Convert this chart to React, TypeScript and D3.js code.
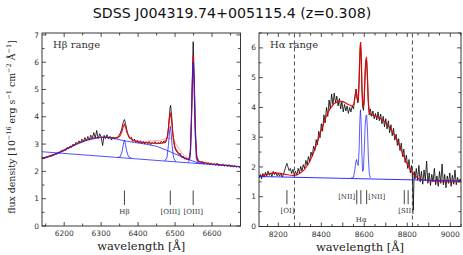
import React from 'react';
import * as d3 from 'd3';

// ---- H-beta panel data ----
const hbObsWave = [6140,6144,6148,6152,6156,6160,6164,6168,6172,6176,6180,6184,6188,6192,6196,6200,6204,6208,6212,6216,6220,6224,6228,6232,6236,6240,6244,6248,6252,6256,6260,6264,6268,6272,6276,6280,6284,6288,6292,6296,6300,6304,6308,6312,6316,6320,6324,6328,6332,6336,6340,6344,6348,6352,6356,6360,6363,6366,6370,6374,6378,6382,6386,6390,6394,6398,6402,6406,6410,6414,6418,6422,6426,6430,6434,6438,6442,6446,6450,6454,6458,6462,6466,6470,6474,6478,6482,6486,6488,6491,6494,6498,6502,6506,6510,6514,6518,6522,6526,6530,6534,6538,6541,6544,6547,6549,6552,6555,6558,6562,6566,6570,6574,6578,6582,6586,6590,6594,6598,6602,6606,6610,6614,6618,6622,6626,6630,6634,6638,6642,6646,6650,6654,6658,6662,6666,6670,6674,6677];
const hbObsFlux = [2.45,2.50,2.47,2.55,2.51,2.58,2.54,2.62,2.59,2.66,2.63,2.70,2.67,2.76,2.72,2.80,2.77,2.88,2.83,2.93,2.88,3.00,2.94,3.07,3.01,3.12,3.04,3.18,3.09,3.24,3.12,3.28,3.16,3.33,3.20,3.42,3.22,3.50,3.20,3.38,3.26,2.95,3.32,3.20,3.34,3.19,3.28,3.15,3.26,3.18,3.25,3.21,3.32,3.40,3.58,3.82,3.90,3.75,3.48,3.30,3.20,3.25,3.10,3.18,3.06,3.14,3.04,3.12,3.02,3.10,3.00,3.08,3.02,3.10,2.98,3.07,3.01,3.09,3.00,3.06,3.02,3.10,3.05,3.12,3.08,3.20,3.55,4.30,4.42,4.00,3.40,2.95,2.78,2.70,2.62,2.66,2.52,2.56,2.46,2.50,2.42,2.48,2.70,3.80,5.60,6.75,5.40,3.60,2.60,2.38,2.34,2.30,2.36,2.28,2.33,2.26,2.31,2.25,2.30,2.24,2.28,2.22,2.30,2.20,2.27,2.21,2.26,2.19,2.24,2.18,2.25,2.17,2.22,2.16,2.21,2.15,2.19,2.14,2.16];

const hbModelWave = [6140,6160,6180,6200,6220,6240,6260,6280,6300,6320,6340,6350,6356,6360,6363,6366,6370,6376,6385,6400,6430,6460,6474,6480,6484,6487,6490,6494,6500,6510,6520,6530,6538,6542,6545,6549,6552,6555,6559,6565,6580,6600,6630,6660,6677];
const hbModelFlux = [2.48,2.56,2.66,2.79,2.92,3.05,3.15,3.22,3.26,3.25,3.23,3.28,3.45,3.65,3.72,3.62,3.42,3.25,3.15,3.08,3.04,3.03,3.06,3.30,3.85,4.15,3.95,3.35,2.85,2.65,2.52,2.45,2.44,2.80,4.30,6.25,5.00,3.30,2.50,2.37,2.32,2.28,2.24,2.19,2.17];

const hbAltWave = [6380,6420,6460,6480,6492,6500,6510,6520,6535];
const hbAltFlux = [3.12,3.10,3.14,3.22,3.20,3.05,2.85,2.65,2.48];

const hbBroadWave = [6140,6170,6200,6230,6260,6290,6310,6330,6360,6390,6420,6450,6480,6510,6540,6560,6580];
const hbBroadFlux = [2.46,2.58,2.76,2.97,3.13,3.23,3.25,3.22,3.13,3.06,3.00,2.92,2.76,2.58,2.42,2.32,2.28];

const hbContWave = [6140,6677];
const hbContFlux = [2.72,2.17];

const hbNarrowWave = [
  [6345,6352,6357,6360,6363,6366,6369,6374,6381],
  [6472,6478,6482,6485,6487,6489,6492,6496,6502],
  [6536,6541,6544,6547,6549,6551,6554,6557,6562],
];
const hbNarrowFlux = [
  [2.51,2.54,2.75,2.98,3.15,2.98,2.75,2.54,2.49],
  [2.38,2.50,2.95,3.45,3.65,3.45,2.95,2.50,2.35],
  [2.33,2.50,3.60,5.40,6.00,5.40,3.60,2.50,2.29],
];

const hbMarkWaves = [6363,6487,6549];
const hbMarkNames = ['H\u03b2','[OIII]','[OIII]'];

// ---- H-alpha panel data ----
const haObsWave = [8110,8116,8122,8128,8134,8140,8146,8152,8158,8164,8170,8176,8182,8188,8194,8200,8206,8212,8218,8224,8230,8236,8240,8244,8250,8256,8262,8268,8274,8280,8286,8292,8298,8304,8310,8316,8322,8328,8334,8340,8346,8352,8358,8364,8370,8376,8382,8388,8394,8400,8406,8412,8418,8424,8430,8436,8442,8448,8454,8460,8466,8472,8478,8484,8490,8496,8502,8508,8514,8520,8526,8532,8538,8544,8550,8554,8558,8562,8566,8570,8574,8578,8582,8585,8588,8592,8596,8600,8604,8608,8611,8615,8619,8623,8628,8634,8640,8646,8652,8658,8664,8670,8676,8682,8688,8694,8700,8706,8712,8718,8724,8730,8736,8742,8748,8754,8760,8766,8772,8778,8784,8790,8796,8802,8808,8814,8820,8824,8828,8832,8836,8842,8848,8854,8860,8866,8872,8878,8884,8890,8896,8902,8908,8914,8920,8926,8932,8938,8944,8950,8956,8962,8968,8974,8980,8986,8992,8998,9004,9010,9016,9022,9028,9034,9040,9046,9050];
const haObsFlux = [1.62,1.75,1.60,1.78,1.66,1.82,1.70,1.86,1.72,1.80,1.68,1.85,1.74,1.83,1.70,1.78,1.69,1.80,1.66,1.76,1.90,2.05,2.12,2.02,1.88,1.95,1.78,1.92,1.74,1.86,1.72,1.95,1.80,2.02,1.86,2.08,1.95,2.22,2.06,2.35,2.18,2.50,2.36,2.70,2.55,2.92,2.75,3.20,2.98,3.45,3.20,3.75,3.48,4.00,3.70,4.25,3.95,4.45,4.10,4.48,4.15,4.38,4.05,4.30,3.95,4.20,3.85,4.10,3.88,4.05,3.80,4.00,3.85,4.05,3.95,4.25,4.45,4.62,4.30,4.15,4.55,5.50,6.15,5.80,4.80,4.05,3.90,4.30,5.20,5.60,5.55,4.90,4.10,3.75,3.95,3.70,3.88,3.62,3.80,3.58,3.85,3.55,3.78,3.45,3.70,3.35,3.62,3.28,3.55,3.15,3.42,3.05,3.30,2.90,3.10,2.72,2.95,2.55,2.80,2.35,2.60,2.15,2.40,1.95,2.25,1.80,2.05,1.70,0.55,1.85,1.60,1.95,1.55,2.05,1.50,1.85,1.42,1.90,1.55,2.20,1.45,1.80,1.38,1.75,1.50,1.95,1.40,1.70,1.35,1.85,1.45,2.10,1.40,1.75,1.30,1.70,1.45,1.80,1.35,1.72,1.42,1.90,1.40,1.65,1.48,1.60,1.52];

const haModelWave = [8110,8130,8150,8175,8200,8225,8250,8275,8300,8320,8340,8360,8380,8400,8420,8440,8460,8480,8500,8520,8540,8552,8558,8563,8567,8572,8576,8580,8583,8586,8590,8594,8598,8602,8606,8610,8614,8618,8623,8630,8650,8670,8690,8710,8730,8750,8770,8790,8810,8830,8850,8870,8900,8950,9000,9030,9050];
const haModelFlux = [1.68,1.72,1.76,1.80,1.79,1.76,1.73,1.71,1.78,1.90,2.10,2.40,2.80,3.25,3.65,3.95,4.13,4.20,4.20,4.12,4.05,4.10,4.40,4.60,4.30,4.20,4.90,5.90,6.20,5.70,4.50,4.00,4.10,4.80,5.50,5.70,5.20,4.30,3.85,3.75,3.72,3.65,3.55,3.40,3.20,2.95,2.60,2.25,1.95,1.75,1.62,1.57,1.54,1.51,1.50,1.51,1.53];

const haContWave = [8110,9050];
const haContFlux = [1.68,1.53];

const haNarrowWave = [8540,8550,8556,8560,8564,8568,8572,8576,8579,8582,8585,8589,8592,8596,8600,8604,8608,8611,8615,8619,8623,8628];
const haNarrowFlux = [1.64,1.66,1.90,2.15,2.25,2.10,2.05,2.60,3.50,3.92,3.60,2.40,1.85,1.90,2.60,3.40,3.72,3.75,3.20,2.30,1.80,1.63];

const haDashWaves = [8275,8824];
const haMarkWaves = [8240,8565,8584,8611,8786,8804];

const TITLE = 'SDSS J004319.74+005115.4 (z=0.308)';

const serif = 'DejaVu Serif, serif';
const sans = 'DejaVu Sans, sans-serif';

type PanelProps = {
  left: number; right: number; top: number; bottom: number;
  xDomain: [number, number]; yDomain: [number, number];
  xMajor: number[]; xMinor: number[]; xLabels: number[];
  yMajor: number[]; yMinor: number[];
  label: string;
  children: (x: d3.ScaleLinear<number, number>, y: d3.ScaleLinear<number, number>) => React.ReactNode;
};

function Panel(p: PanelProps) {
  const x = d3.scaleLinear().domain(p.xDomain).range([p.left, p.right]);
  const y = d3.scaleLinear().domain(p.yDomain).range([p.bottom, p.top]);
  const ticks: React.ReactNode[] = [];
  const tk = '#222';
  p.xMajor.forEach((v, i) => {
    const px = x(v);
    ticks.push(<line key={'xb' + i} x1={px} x2={px} y1={p.bottom} y2={p.bottom - 4} stroke={tk} strokeWidth={0.8} />);
    ticks.push(<line key={'xt' + i} x1={px} x2={px} y1={p.top} y2={p.top + 4} stroke={tk} strokeWidth={0.8} />);
  });
  p.xMinor.forEach((v, i) => {
    const px = x(v);
    ticks.push(<line key={'xmb' + i} x1={px} x2={px} y1={p.bottom} y2={p.bottom - 2.5} stroke={tk} strokeWidth={0.8} />);
    ticks.push(<line key={'xmt' + i} x1={px} x2={px} y1={p.top} y2={p.top + 2.5} stroke={tk} strokeWidth={0.8} />);
  });
  p.yMajor.forEach((v, i) => {
    const py = y(v);
    ticks.push(<line key={'yl' + i} x1={p.left} x2={p.left + 4} y1={py} y2={py} stroke={tk} strokeWidth={0.8} />);
    ticks.push(<line key={'yr' + i} x1={p.right} x2={p.right - 4} y1={py} y2={py} stroke={tk} strokeWidth={0.8} />);
    ticks.push(<text key={'ylb' + i} x={p.left - 3} y={py + 2.6} textAnchor="end" fontSize={7.5} fontFamily={sans} fill="#333">{v}</text>);
  });
  p.yMinor.forEach((v, i) => {
    const py = y(v);
    ticks.push(<line key={'yml' + i} x1={p.left} x2={p.left + 2.5} y1={py} y2={py} stroke={tk} strokeWidth={0.8} />);
    ticks.push(<line key={'ymr' + i} x1={p.right} x2={p.right - 2.5} y1={py} y2={py} stroke={tk} strokeWidth={0.8} />);
  });
  p.xLabels.forEach((v, i) => {
    ticks.push(<text key={'xlb' + i} x={x(v)} y={p.bottom + 10} textAnchor="middle" fontSize={7.5} fontFamily={sans} fill="#333">{v}</text>);
  });
  return (
    <g>
      <defs>
        <clipPath id={'clip' + p.left}>
          <rect x={p.left} y={p.top} width={p.right - p.left} height={p.bottom - p.top} />
        </clipPath>
      </defs>
      <g clipPath={`url(#clip${p.left})`}>{p.children(x, y)}</g>
      <rect x={p.left} y={p.top} width={p.right - p.left} height={p.bottom - p.top} fill="none" stroke="#222" strokeWidth={0.9} />
      {ticks}
      <text x={p.left + 11} y={p.top + 15} fontSize={10} fontFamily={serif} fill="#333">{p.label}</text>
      <text x={(p.left + p.right) / 2} y={p.bottom + 24} textAnchor="middle" fontSize={11.5} fontFamily={serif} fill="#222">wavelength [Å]</text>
    </g>
  );
}

function path(x: any, y: any, w: number[], f: number[]) {
  const pts = w.map((v, i) => [v, f[i]] as [number, number]);
  return d3.line<[number, number]>().x(d => x(d[0])).y(d => y(d[1]))(pts) || '';
}

const RED = '#e60000';
const BLUE = '#1a1aff';

export default function App() {
  const range = (a: number, b: number, s: number) => d3.range(a, b + 1e-6, s);
  return (
    <svg width={463} height={255} style={{ position: 'absolute', left: 0, top: 0, background: '#fff' }}>
      <rect width={463} height={255} fill="#fff" />
      <text x={232} y={17.5} textAnchor="middle" fontSize={14.2} fontFamily={sans} fill="#111">{TITLE}</text>
      <text transform="translate(15,127) rotate(-90)" textAnchor="middle" fontSize={9.4} fontFamily={serif} fill="#222">
        flux density [10<tspan dy={-3.6} fontSize={6.5}>{'\u221216'}</tspan>
        <tspan dy={3.6}> erg s</tspan><tspan dy={-3.6} fontSize={6.5}>{'\u22121'}</tspan>
        <tspan dy={3.6}> cm</tspan><tspan dy={-3.6} fontSize={6.5}>{'\u22122'}</tspan>
        <tspan dy={3.6}> Å</tspan><tspan dy={-3.6} fontSize={6.5}>{'\u22121'}</tspan>
        <tspan dy={3.6}>]</tspan>
      </text>
      <Panel left={42} right={240.5} top={33} bottom={226}
        xDomain={[6140, 6677]} yDomain={[0, 7.07]}
        xMajor={range(6200, 6600, 100)} xMinor={range(6150, 6650, 100)} xLabels={range(6200, 6600, 100)}
        yMajor={range(0, 7, 1)} yMinor={range(0.5, 6.5, 1)} label={'H\u03b2 range'}>
        {(x, y) => (
          <g fill="none">
            <path d={path(x, y, hbObsWave, hbObsFlux)} stroke="#000" strokeWidth={0.8} />
            <path d={path(x, y, hbAltWave, hbAltFlux)} stroke="#ff6666" strokeWidth={0.6} />
            <path d={path(x, y, hbModelWave, hbModelFlux)} stroke={RED} strokeWidth={1.2} opacity={0.9} />
            <path d={path(x, y, hbContWave, hbContFlux)} stroke={BLUE} strokeWidth={0.9} opacity={0.85} />
            <path d={path(x, y, hbBroadWave, hbBroadFlux)} stroke={BLUE} strokeWidth={0.9} opacity={0.85} />
            {hbNarrowWave.map((w, i) => (
              <path key={i} d={path(x, y, w, hbNarrowFlux[i])} stroke={BLUE} strokeWidth={0.9} opacity={0.85} />
            ))}
            {hbMarkWaves.map((w, i) => (
              <g key={'m' + i}>
                <line x1={x(w)} x2={x(w)} y1={y(1.3)} y2={y(0.77)} stroke="#111" strokeWidth={0.8} />
                <text x={x(w)} y={y(0.77) + 9} textAnchor="middle" fontSize={7} fontFamily={serif} fill="#333">{hbMarkNames[i]}</text>
              </g>
            ))}
          </g>
        )}
      </Panel>
      <Panel left={259} right={461} top={33} bottom={226.5}
        xDomain={[8110, 9050]} yDomain={[0, 6.5]}
        xMajor={range(8200, 9000, 100)} xMinor={range(8150, 9050, 100)} xLabels={range(8200, 9000, 200)}
        yMajor={range(0, 6, 1)} yMinor={range(0.5, 6.5, 1)} label={'H\u03b1 range'}>
        {(x, y) => (
          <g fill="none">
            <path d={path(x, y, haObsWave, haObsFlux)} stroke="#000" strokeWidth={0.8} />
            <path d={path(x, y, haModelWave, haModelFlux)} stroke={RED} strokeWidth={1.2} opacity={0.9} />
            <path d={path(x, y, haContWave, haContFlux)} stroke={BLUE} strokeWidth={1} opacity={0.9} />
            <path d={path(x, y, haNarrowWave, haNarrowFlux)} stroke={BLUE} strokeWidth={0.9} opacity={0.8} />
            {haDashWaves.map((w, i) => (
              <line key={'d' + i} x1={x(w)} x2={x(w)} y1={y(0)} y2={y(6.5)} stroke="#222" strokeWidth={0.8} strokeDasharray="4,3" />
            ))}
            {haMarkWaves.map((w, i) => (
              <line key={'m' + i} x1={x(w)} x2={x(w)} y1={y(1.22)} y2={y(0.75)} stroke="#111" strokeWidth={0.8} />
            ))}
            <text x={x(8243)} y={y(0.75) + 9} textAnchor="middle" fontSize={7} fontFamily={serif} fill="#333">[OI]</text>
            <text x={x(8795)} y={y(0.75) + 9} textAnchor="middle" fontSize={7} fontFamily={serif} fill="#333">[SII]</text>
            <text x={x(8558)} y={y(1.0) + 2.5} textAnchor="end" fontSize={7} fontFamily={serif} fill="#333">[NII]</text>
            <text x={x(8618)} y={y(1.0) + 2.5} textAnchor="start" fontSize={7} fontFamily={serif} fill="#333">[NII]</text>
            <text x={x(8586)} y={y(0.75) + 18} textAnchor="middle" fontSize={7} fontFamily={serif} fill="#333">{'H\u03b1'}</text>
          </g>
        )}
      </Panel>
    </svg>
  );
}
